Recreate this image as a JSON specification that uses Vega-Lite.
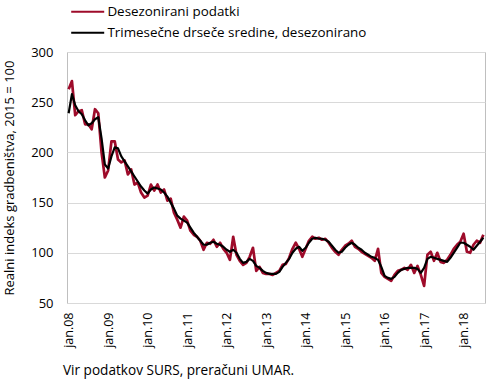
{
  "$schema": "https://vega.github.io/schema/vega-lite/v6.json",
  "width": 418,
  "height": 251,
  "autosize": {"type": "none"},
  "padding": {"left": 67, "top": 52, "right": 5, "bottom": 79},
  "config": {
    "font": "Open Sans",
    "view": {"stroke": "#BFBFBF", "strokeWidth": 1},
    "axis": {"labelFont": "Open Sans", "titleFont": "Open Sans", "labelColor": "#000", "titleColor": "#000"}
  },
  "title": {
    "text": "Vir podatkov SURS, preračuni UMAR.",
    "orient": "bottom",
    "anchor": "start",
    "frame": "group",
    "offset": 17,
    "dx": -4,
    "font": "Open Sans",
    "fontSize": 13.6,
    "fontWeight": "normal",
    "color": "#000"
  },
  "data": {
    "values": [
      {"m": "2008-01", "r": 263, "b": 239},
      {"m": "2008-02", "r": 271, "b": 258},
      {"m": "2008-03", "r": 237, "b": 247},
      {"m": "2008-04", "r": 241, "b": 241},
      {"m": "2008-05", "r": 242, "b": 238},
      {"m": "2008-06", "r": 228, "b": 232},
      {"m": "2008-07", "r": 228, "b": 227},
      {"m": "2008-08", "r": 223, "b": 229},
      {"m": "2008-09", "r": 243, "b": 233},
      {"m": "2008-10", "r": 239, "b": 235},
      {"m": "2008-11", "r": 200, "b": 214},
      {"m": "2008-12", "r": 175, "b": 188},
      {"m": "2009-01", "r": 182, "b": 184},
      {"m": "2009-02", "r": 211, "b": 196},
      {"m": "2009-03", "r": 211, "b": 205},
      {"m": "2009-04", "r": 193, "b": 204},
      {"m": "2009-05", "r": 190, "b": 196},
      {"m": "2009-06", "r": 192, "b": 191},
      {"m": "2009-07", "r": 178, "b": 186},
      {"m": "2009-08", "r": 183, "b": 181},
      {"m": "2009-09", "r": 168, "b": 176},
      {"m": "2009-10", "r": 170, "b": 171},
      {"m": "2009-11", "r": 160, "b": 166},
      {"m": "2009-12", "r": 155, "b": 162},
      {"m": "2010-01", "r": 157, "b": 159},
      {"m": "2010-02", "r": 168, "b": 163},
      {"m": "2010-03", "r": 162, "b": 165},
      {"m": "2010-04", "r": 168, "b": 164},
      {"m": "2010-05", "r": 160, "b": 163},
      {"m": "2010-06", "r": 163, "b": 160},
      {"m": "2010-07", "r": 152, "b": 156},
      {"m": "2010-08", "r": 154, "b": 150},
      {"m": "2010-09", "r": 140, "b": 144},
      {"m": "2010-10", "r": 133, "b": 137},
      {"m": "2010-11", "r": 125, "b": 134},
      {"m": "2010-12", "r": 136, "b": 132},
      {"m": "2011-01", "r": 132, "b": 130},
      {"m": "2011-02", "r": 122, "b": 125},
      {"m": "2011-03", "r": 118, "b": 120},
      {"m": "2011-04", "r": 116, "b": 116},
      {"m": "2011-05", "r": 112, "b": 112},
      {"m": "2011-06", "r": 103, "b": 108},
      {"m": "2011-07", "r": 110, "b": 108},
      {"m": "2011-08", "r": 109, "b": 110},
      {"m": "2011-09", "r": 113, "b": 111},
      {"m": "2011-10", "r": 106, "b": 109},
      {"m": "2011-11", "r": 110, "b": 108},
      {"m": "2011-12", "r": 104, "b": 106},
      {"m": "2012-01", "r": 100, "b": 103},
      {"m": "2012-02", "r": 93, "b": 101},
      {"m": "2012-03", "r": 116, "b": 103},
      {"m": "2012-04", "r": 98, "b": 100},
      {"m": "2012-05", "r": 92, "b": 94},
      {"m": "2012-06", "r": 88, "b": 90},
      {"m": "2012-07", "r": 90, "b": 91},
      {"m": "2012-08", "r": 96, "b": 94},
      {"m": "2012-09", "r": 105, "b": 92},
      {"m": "2012-10", "r": 82, "b": 87},
      {"m": "2012-11", "r": 86, "b": 85},
      {"m": "2012-12", "r": 80, "b": 82},
      {"m": "2013-01", "r": 79, "b": 80},
      {"m": "2013-02", "r": 79, "b": 79},
      {"m": "2013-03", "r": 78, "b": 79},
      {"m": "2013-04", "r": 80, "b": 79},
      {"m": "2013-05", "r": 82, "b": 81},
      {"m": "2013-06", "r": 88, "b": 86},
      {"m": "2013-07", "r": 89, "b": 90},
      {"m": "2013-08", "r": 95, "b": 94},
      {"m": "2013-09", "r": 104, "b": 100},
      {"m": "2013-10", "r": 110, "b": 104},
      {"m": "2013-11", "r": 104, "b": 106},
      {"m": "2013-12", "r": 96, "b": 102},
      {"m": "2014-01", "r": 104, "b": 105},
      {"m": "2014-02", "r": 112, "b": 110},
      {"m": "2014-03", "r": 116, "b": 114},
      {"m": "2014-04", "r": 114, "b": 115},
      {"m": "2014-05", "r": 115, "b": 114},
      {"m": "2014-06", "r": 113, "b": 114},
      {"m": "2014-07", "r": 114, "b": 113},
      {"m": "2014-08", "r": 110, "b": 111},
      {"m": "2014-09", "r": 105, "b": 107},
      {"m": "2014-10", "r": 101, "b": 103},
      {"m": "2014-11", "r": 98, "b": 100},
      {"m": "2014-12", "r": 103, "b": 101},
      {"m": "2015-01", "r": 107, "b": 105},
      {"m": "2015-02", "r": 109, "b": 108},
      {"m": "2015-03", "r": 112, "b": 110},
      {"m": "2015-04", "r": 106, "b": 108},
      {"m": "2015-05", "r": 104, "b": 105},
      {"m": "2015-06", "r": 101, "b": 103},
      {"m": "2015-07", "r": 99, "b": 100},
      {"m": "2015-08", "r": 97, "b": 98},
      {"m": "2015-09", "r": 95, "b": 96},
      {"m": "2015-10", "r": 92, "b": 95},
      {"m": "2015-11", "r": 104, "b": 93},
      {"m": "2015-12", "r": 80, "b": 86},
      {"m": "2016-01", "r": 76, "b": 77},
      {"m": "2016-02", "r": 74, "b": 75},
      {"m": "2016-03", "r": 72, "b": 74},
      {"m": "2016-04", "r": 78, "b": 76},
      {"m": "2016-05", "r": 82, "b": 80},
      {"m": "2016-06", "r": 83, "b": 83},
      {"m": "2016-07", "r": 85, "b": 84},
      {"m": "2016-08", "r": 83, "b": 85},
      {"m": "2016-09", "r": 88, "b": 85},
      {"m": "2016-10", "r": 80, "b": 85},
      {"m": "2016-11", "r": 87, "b": 84},
      {"m": "2016-12", "r": 78, "b": 80},
      {"m": "2017-01", "r": 67, "b": 85},
      {"m": "2017-02", "r": 98, "b": 94},
      {"m": "2017-03", "r": 101, "b": 96},
      {"m": "2017-04", "r": 92, "b": 95},
      {"m": "2017-05", "r": 100, "b": 94},
      {"m": "2017-06", "r": 91, "b": 93},
      {"m": "2017-07", "r": 90, "b": 92},
      {"m": "2017-08", "r": 93, "b": 91},
      {"m": "2017-09", "r": 98, "b": 95},
      {"m": "2017-10", "r": 104, "b": 100},
      {"m": "2017-11", "r": 108, "b": 105},
      {"m": "2017-12", "r": 111, "b": 110},
      {"m": "2018-01", "r": 119, "b": 110},
      {"m": "2018-02", "r": 101, "b": 108},
      {"m": "2018-03", "r": 100, "b": 106},
      {"m": "2018-04", "r": 108, "b": 103},
      {"m": "2018-05", "r": 112, "b": 107},
      {"m": "2018-06", "r": 110, "b": 111},
      {"m": "2018-07", "r": 118, "b": 115}
    ]
  },
  "encoding": {
    "x": {
      "field": "m",
      "type": "ordinal",
      "sort": null,
      "scale": {"type": "point", "padding": 0.5},
      "axis": {
        "title": null,
        "values": ["2008-01", "2009-01", "2010-01", "2011-01", "2012-01", "2013-01", "2014-01", "2015-01", "2016-01", "2017-01", "2018-01"],
        "labelExpr": "'jan.' + slice(datum.value, 2, 4)",
        "labelAngle": -90,
        "labelFontSize": 12.5,
        "labelPadding": 9,
        "ticks": false,
        "domain": false,
        "grid": false
      }
    }
  },
  "layer": [
    {
      "mark": {"type": "line", "strokeWidth": 2.7, "strokeJoin": "round"},
      "encoding": {
        "y": {
          "field": "r",
          "type": "quantitative",
          "scale": {"domain": [50, 300], "nice": false, "zero": false},
          "axis": {
            "title": "Realni indeks gradbeništva, 2015 = 100",
            "titleFontSize": 13,
            "titleFontWeight": "normal",
            "titlePadding": 14,
            "values": [50, 100, 150, 200, 250, 300],
            "labelFontSize": 13,
            "labelPadding": 14,
            "ticks": false,
            "domain": false,
            "grid": true,
            "gridColor": "#D9D9D9",
            "gridWidth": 1
          }
        },
        "color": {
          "datum": "Desezonirani podatki",
          "type": "nominal",
          "scale": {
            "domain": ["Desezonirani podatki", "Trimesečne drseče sredine, desezonirano"],
            "range": ["#9E0B2A", "#000000"]
          },
          "legend": {
            "title": null,
            "orient": "none",
            "legendX": 3,
            "legendY": -47,
            "symbolType": "M-1,0H5",
            "symbolSize": 121,
            "symbolStrokeWidth": 2,
            "labelFont": "Open Sans",
            "labelFontSize": 13.4,
            "labelColor": "#000",
            "labelLimit": 400,
            "labelOffset": 24,
            "rowPadding": 6
          }
        }
      }
    },
    {
      "mark": {"type": "line", "strokeWidth": 2.2, "strokeJoin": "round"},
      "encoding": {
        "y": {"field": "b", "type": "quantitative"},
        "color": {"datum": "Trimesečne drseče sredine, desezonirano", "type": "nominal"}
      }
    }
  ]
}
